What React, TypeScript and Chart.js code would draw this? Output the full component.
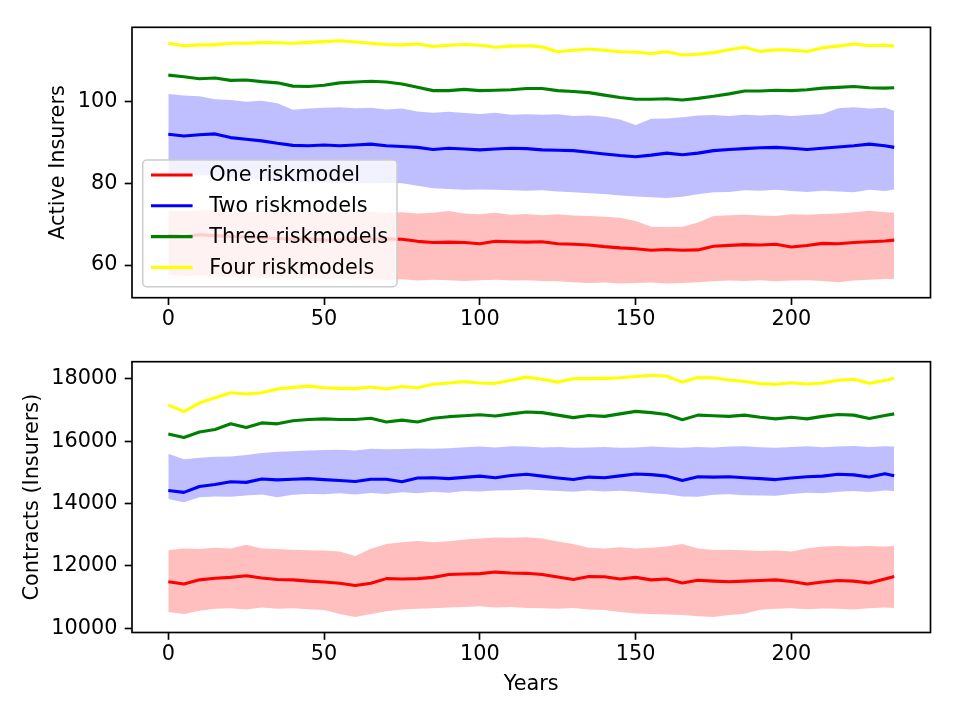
import React, { useEffect, useRef } from "react";
import { Chart, registerables } from "chart.js";
Chart.register(...registerables);

const FONT = "'DejaVu Sans', 'Liberation Sans', sans-serif";
const FS = 20.8;

// ---------- data ----------
const years = [0, 5, 10, 15, 20, 25, 30, 35, 40, 45, 50, 55, 60, 65, 70, 75, 80, 85, 90, 95, 100, 105, 110, 115, 120, 125, 130, 135, 140, 145, 150, 155, 160, 165, 170, 175, 180, 185, 190, 195, 200, 205, 210, 215, 220, 225, 230, 233];
const xTicks = [0, 50, 100, 150, 200];
const seriesLabels = ["One riskmodel", "Two riskmodels", "Three riskmodels", "Four riskmodels"];

// Active insurers (top panel)
const oneTop = [67.3, 67.0, 67.4, 67.2, 67.0, 66.9, 66.6, 66.5, 66.3, 66.4, 66.1, 66.2, 66.5, 66.3, 66.4, 66.3, 65.8, 65.5, 65.6, 65.5, 65.2, 65.8, 65.7, 65.6, 65.7, 65.2, 65.1, 64.9, 64.5, 64.2, 64.0, 63.6, 63.8, 63.6, 63.7, 64.6, 64.8, 65.0, 64.9, 65.1, 64.4, 64.8, 65.3, 65.2, 65.5, 65.7, 65.9, 66.1];
const oneTopHi = [73.3, 73.2, 73.4, 73.5, 73.3, 73.0, 73.2, 73.3, 73.0, 73.1, 73.0, 72.9, 73.0, 73.1, 72.8, 72.9, 72.6, 72.8, 73.2, 72.6, 72.4, 72.8, 72.3, 72.5, 72.2, 72.4, 72.1, 72.0, 71.8, 71.6, 70.8, 69.4, 69.3, 69.4, 70.4, 72.0, 72.2, 72.3, 72.1, 72.0, 72.4, 72.3, 72.5, 72.6, 72.9, 73.3, 72.9, 72.8];
const oneTopLo = [57.6, 57.3, 57.5, 57.2, 57.0, 57.1, 56.8, 56.9, 56.7, 56.8, 56.6, 56.7, 56.5, 56.6, 56.3, 56.5, 56.2, 56.4, 56.3, 56.1, 56.3, 56.4, 56.2, 56.3, 56.1, 56.0, 55.8, 55.6, 55.7, 55.5, 55.6, 55.7, 55.5, 55.6, 55.8, 56.0, 56.2, 56.1, 56.3, 56.0, 56.2, 56.3, 56.1, 55.8, 56.2, 56.4, 56.6, 56.5];
const twoTop = [92.0, 91.6, 91.9, 92.1, 91.2, 90.8, 90.4, 89.8, 89.3, 89.2, 89.4, 89.2, 89.4, 89.6, 89.2, 89.0, 88.8, 88.3, 88.6, 88.4, 88.2, 88.4, 88.6, 88.5, 88.2, 88.1, 88.0, 87.6, 87.2, 86.8, 86.5, 86.9, 87.4, 87.0, 87.4, 88.0, 88.3, 88.5, 88.7, 88.8, 88.6, 88.3, 88.6, 88.9, 89.2, 89.6, 89.2, 88.8];
const twoTopHi = [101.9, 101.5, 101.3, 100.6, 100.4, 100.0, 100.2, 99.6, 98.0, 98.3, 98.5, 98.6, 98.4, 98.5, 98.1, 98.3, 97.6, 97.3, 97.5, 97.2, 97.0, 97.3, 96.8, 96.9, 96.8, 96.9, 96.5, 96.6, 96.3, 95.6, 94.3, 95.8, 95.9, 96.2, 96.6, 96.7, 96.5, 96.8, 96.6, 96.8, 96.5, 96.7, 97.0, 98.4, 98.6, 98.3, 98.5, 97.8];
const twoTopLo = [82.5, 82.3, 82.0, 81.8, 81.5, 81.2, 81.0, 80.7, 80.4, 80.2, 80.2, 80.0, 80.1, 80.0, 80.1, 80.0, 79.4, 78.8, 78.6, 78.4, 78.5, 78.4, 78.3, 78.2, 78.3, 78.0, 77.8, 77.6, 77.4, 77.0, 76.8, 76.6, 76.4, 76.7, 77.3, 77.8, 77.9, 78.3, 78.2, 78.4, 78.1, 77.9, 78.2, 78.0, 77.8, 78.4, 78.1, 78.5];
const threeTop = [106.5, 106.1, 105.6, 105.8, 105.2, 105.3, 104.9, 104.6, 103.8, 103.7, 104.0, 104.6, 104.8, 105.0, 104.8, 104.3, 103.5, 102.7, 102.7, 103.0, 102.7, 102.8, 102.9, 103.2, 103.2, 102.7, 102.5, 102.2, 101.6, 101.0, 100.6, 100.6, 100.7, 100.4, 100.8, 101.3, 101.9, 102.6, 102.6, 102.8, 102.7, 102.9, 103.3, 103.5, 103.7, 103.4, 103.3, 103.4];
const fourTop = [114.3, 113.7, 113.9, 113.9, 114.3, 114.3, 114.45, 114.4, 114.3, 114.5, 114.7, 114.9, 114.6, 114.3, 114.0, 113.9, 114.1, 113.5, 113.8, 114.0, 113.8, 113.3, 113.6, 113.7, 113.4, 112.2, 112.6, 112.9, 112.6, 112.2, 112.1, 111.8, 112.2, 111.4, 111.6, 112.0, 112.7, 113.3, 112.3, 112.7, 112.6, 112.3, 113.2, 113.6, 114.1, 113.7, 113.8, 113.6];
const topYTicks = [60, 80, 100];

// Contracts (bottom panel)
const oneBot = [11490, 11420, 11550, 11600, 11630, 11680, 11610, 11560, 11550, 11510, 11480, 11440, 11370, 11440, 11590, 11580, 11590, 11630, 11720, 11740, 11750, 11800, 11770, 11760, 11720, 11640, 11560, 11660, 11650, 11580, 11630, 11550, 11580, 11450, 11540, 11510, 11490, 11510, 11530, 11550, 11500, 11420, 11480, 11530, 11510, 11450, 11580, 11660];
const oneBotHi = [12500, 12560, 12540, 12580, 12560, 12680, 12560, 12540, 12520, 12500, 12490, 12460, 12320, 12550, 12700, 12760, 12800, 12760, 12790, 12850, 12880, 12910, 12900, 12920, 12880, 12780, 12700, 12580, 12560, 12600, 12560, 12580, 12620, 12700, 12560, 12510, 12520, 12500, 12480, 12490, 12460, 12560, 12620, 12640, 12620, 12640, 12620, 12640];
const oneBotLo = [10520, 10450, 10560, 10620, 10640, 10600, 10660, 10620, 10640, 10610, 10580, 10450, 10360, 10450, 10540, 10600, 10620, 10640, 10660, 10680, 10700, 10660, 10680, 10650, 10640, 10620, 10650, 10600, 10580, 10520, 10470, 10450, 10440, 10420, 10380, 10360, 10420, 10460, 10590, 10620, 10640, 10610, 10630, 10620, 10600, 10640, 10660, 10650];
const twoBot = [14420, 14360, 14550, 14610, 14700, 14680, 14790, 14760, 14780, 14800, 14770, 14740, 14710, 14780, 14780, 14700, 14820, 14830, 14800, 14840, 14880, 14830, 14900, 14940, 14880, 14820, 14770, 14850, 14830, 14890, 14950, 14930, 14880, 14740, 14860, 14850, 14860, 14830, 14800, 14770, 14820, 14860, 14880, 14940, 14920, 14850, 14960, 14890];
const twoBotHi = [15600, 15420, 15470, 15500, 15510, 15560, 15620, 15660, 15680, 15700, 15720, 15730, 15700, 15760, 15740, 15750, 15770, 15760, 15780, 15810, 15830, 15800, 15840, 15830, 15800, 15820, 15790, 15800, 15820, 15790, 15800, 15830, 15810, 15790, 15820, 15800, 15830, 15840, 15810, 15790, 15820, 15840, 15810, 15830, 15850, 15820, 15840, 15830];
const twoBotLo = [14150, 14040, 14200, 14230, 14220, 14260, 14290, 14200, 14280, 14310, 14300, 14330, 14290, 14340, 14310, 14360, 14330, 14380, 14350, 14400, 14390, 14420, 14430, 14450, 14430, 14400, 14380, 14420, 14390, 14410, 14380, 14330, 14300, 14230, 14220, 14280, 14300, 14270, 14260, 14250, 14310, 14350, 14330, 14380, 14400, 14370, 14420, 14400];
const threeBot = [16230, 16120, 16300, 16380, 16560, 16440, 16590, 16560, 16660, 16700, 16720, 16700, 16700, 16740, 16620, 16680, 16620, 16740, 16790, 16820, 16850, 16810, 16880, 16940, 16920, 16840, 16760, 16830, 16800, 16880, 16960, 16920, 16860, 16690, 16840, 16820, 16800, 16840, 16770, 16720, 16770, 16720, 16800, 16860, 16840, 16730, 16830, 16880];
const fourBot = [17170, 16950, 17230, 17400, 17560, 17520, 17560, 17680, 17730, 17770, 17720, 17700, 17690, 17740, 17680, 17760, 17720, 17830, 17870, 17910, 17870, 17860, 17960, 18060, 17990, 17900, 18010, 18010, 18020, 18040, 18080, 18120, 18090, 17900, 18050, 18040, 17970, 17920, 17850, 17830, 17880, 17840, 17870, 17960, 17990, 17860, 17950, 18020];
const botYTicks = [10000, 12000, 14000, 16000, 18000];

const lineColors = ["#ff0000", "#0000ff", "#008000", "#ffff00"];
const bandColors = ["rgba(255,0,0,0.25)", "rgba(0,0,255,0.25)"];

// ---------- helpers ----------
const pts = (vals: number[]) => years.map((x, i) => ({ x, y: vals[i] }));

function buildDatasets(lines: number[][], bands: [number[], number[]][]) {
  const ds: any[] = [];
  bands.forEach(([hi, lo], i) => {
    ds.push({ label: "_hi" + i, data: pts(hi), borderColor: "rgba(0,0,0,0)", borderWidth: 0, pointRadius: 0, fill: false, order: 5 });
    ds.push({ label: "_lo" + i, data: pts(lo), borderColor: "rgba(0,0,0,0)", borderWidth: 0, pointRadius: 0, fill: "-1", backgroundColor: bandColors[i], order: 5 });
  });
  lines.forEach((vals, i) => {
    ds.push({
      label: seriesLabels[i], data: pts(vals), borderColor: lineColors[i], borderWidth: 3.1,
      pointRadius: 0, fill: false, tension: 0, borderJoinStyle: "round", order: 1,
    });
  });
  return ds;
}

const boxPlugin = {
  id: "axesBox",
  afterDraw(chart: any) {
    const { ctx, chartArea: a } = chart;
    ctx.save();
    ctx.strokeStyle = "#000";
    ctx.lineWidth = 1.67;
    ctx.strokeRect(a.left, a.top, a.right - a.left, a.bottom - a.top);
    ctx.restore();
  },
};

const legendPlugin = {
  id: "mplLegend",
  afterDraw(chart: any) {
    const { ctx, chartArea: a } = chart;
    const left = a.left + 10.7;
    const top = a.bottom - 11 - 126.7;
    const w = 254.3, h = 126.7;
    ctx.save();
    ctx.beginPath();
    ctx.roundRect(left, top, w, h, 4.2);
    ctx.fillStyle = "rgba(255,255,255,0.8)";
    ctx.fill();
    ctx.strokeStyle = "#cccccc";
    ctx.lineWidth = 1.5;
    ctx.stroke();
    ctx.font = `${FS}px ${FONT}`;
    ctx.textBaseline = "middle";
    ctx.textAlign = "left";
    seriesLabels.forEach((lab, i) => {
      const cy = top + 15 + i * 30.8;
      ctx.strokeStyle = lineColors[i];
      ctx.lineWidth = 3.1;
      ctx.beginPath();
      ctx.moveTo(left + 8.3, cy);
      ctx.lineTo(left + 8.3 + 41.6, cy);
      ctx.stroke();
      ctx.fillStyle = "#000";
      ctx.fillText(lab, left + 8.3 + 41.6 + 16.6, cy + 1);
    });
    ctx.restore();
  },
};

function makeOptions(cfg: {
  yMin: number; yMax: number; yTicks: number[]; yTitle: string; yTitlePad: number;
  padTop: number; xHeight: number; xTitle?: string; xTitlePad?: number;
}) {
  const font = { family: FONT, size: FS };
  return {
    responsive: false,
    animation: false,
    devicePixelRatio: 1,
    events: [],
    layout: { padding: { top: cfg.padTop, right: 29.5, left: 0, bottom: 0 } },
    plugins: { legend: { display: false }, tooltip: { enabled: false } },
    scales: {
      x: {
        type: "linear",
        min: -11.65,
        max: 244.65,
        afterBuildTicks: (s: any) => { s.ticks = xTicks.map((v) => ({ value: v })); },
        afterFit: (s: any) => { s.height = cfg.xHeight; },
        ticks: { callback: (v: any) => String(v), font, color: "#000", padding: 2.5, maxRotation: 0, autoSkip: false },
        grid: { drawOnChartArea: false, drawTicks: true, tickLength: 7.3, tickWidth: 1.67, tickColor: "#000" },
        border: { display: false },
        title: cfg.xTitle
          ? { display: true, text: cfg.xTitle, font, color: "#000", padding: { top: 0, bottom: cfg.xTitlePad } }
          : { display: false },
      },
      y: {
        type: "linear",
        min: cfg.yMin,
        max: cfg.yMax,
        afterBuildTicks: (s: any) => { s.ticks = cfg.yTicks.map((v) => ({ value: v })); },
        afterFit: (s: any) => { s.width = 132; },
        ticks: { callback: (v: any) => String(v), font, color: "#000", padding: 7.3, autoSkip: false },
        grid: { drawOnChartArea: false, drawTicks: true, tickLength: 7.3, tickWidth: 1.67, tickColor: "#000" },
        border: { display: false },
        title: { display: true, text: cfg.yTitle, font, color: "#000", padding: { top: cfg.yTitlePad, bottom: 0 } },
      },
    },
  };
}

export default function App() {
  const topRef = useRef<HTMLCanvasElement>(null);
  const botRef = useRef<HTMLCanvasElement>(null);

  useEffect(() => {
    Chart.defaults.font.family = FONT;
    Chart.defaults.color = "#000";
    const top = new Chart(topRef.current as HTMLCanvasElement, {
      type: "line",
      data: {
        datasets: buildDatasets([oneTop, twoTop, threeTop, fourTop], [[oneTopHi, oneTopLo], [twoTopHi, twoTopLo]]),
      },
      options: makeOptions({
        yMin: 52.0, yMax: 118.2, yTicks: topYTicks, yTitle: "Active Insurers", yTitlePad: 46,
        padTop: 27.3, xHeight: 32.3,
      }) as any,
      plugins: [boxPlugin, legendPlugin],
    });
    const bot = new Chart(botRef.current as HTMLCanvasElement, {
      type: "line",
      data: {
        datasets: buildDatasets([oneBot, twoBot, threeBot, fourBot], [[oneBotHi, oneBotLo], [twoBotHi, twoBotLo]]),
      },
      options: makeOptions({
        yMin: 9860, yMax: 18555, yTicks: botYTicks, yTitle: "Contracts (Insurers)", yTitlePad: 20.3,
        padTop: 31.7, xHeight: 87.5, xTitle: "Years", xTitlePad: 22.5,
      }) as any,
      plugins: [boxPlugin],
    });
    return () => {
      top.destroy();
      bot.destroy();
    };
  }, []);

  return (
    <div style={{ position: "absolute", left: 0, top: 0, width: 960, height: 720, background: "#fff" }}>
      <canvas ref={topRef} width={960} height={330} style={{ position: "absolute", left: 0, top: 0, width: 960, height: 330 }} />
      <canvas ref={botRef} width={960} height={390} style={{ position: "absolute", left: 0, top: 330, width: 960, height: 390 }} />
    </div>
  );
}
